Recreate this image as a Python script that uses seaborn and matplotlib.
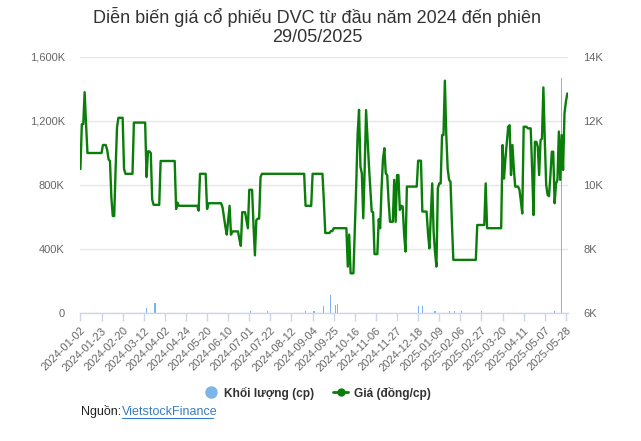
import numpy as np
import pandas as pd
import matplotlib
matplotlib.use("Agg")
import matplotlib.pyplot as plt
from matplotlib.lines import Line2D
import seaborn as sns

# ---- data ----
tick_labels = ["2024-01-02", "2024-01-23", "2024-02-20", "2024-03-12", "2024-04-02",
               "2024-04-24", "2024-05-20", "2024-06-10", "2024-07-01", "2024-07-22",
               "2024-08-12", "2024-09-04", "2024-09-25", "2024-10-16", "2024-11-06",
               "2024-11-27", "2024-12-18", "2025-01-09", "2025-02-06", "2025-02-27",
               "2025-03-20", "2025-04-11", "2025-05-07", "2025-05-28"]

# closing price (thousand VND) for each trading session, in order
price = ([10.5, 11.9, 11.9, 12.9, 11.9] + [11.0] * 11 + [11.25] * 3 +
         [11.1, 10.8, 10.75, 9.6, 9.03, 9.03, 10.5, 11.8] + [12.1] * 4 +
         [10.5] + [10.35] * 6 + [11.95] * 9 + [10.25, 11.05, 11.05, 11.0, 9.55] +
         [9.38] * 5 + [10.75] * 11 + [9.25, 9.45] + [9.35] * 14 + [9.2] +
         [10.35] * 5 + [9.25] + [9.43] * 10 +
         [9.3, 9.0, 8.7, 8.45, 8.9, 9.35, 8.45] + [8.55] * 5 + [8.3, 8.1] +
         [9.15] * 3 + [8.9, 8.65] + [9.85] * 3 + [8.75, 7.8, 8.9, 8.95, 8.95, 10.25] +
         [10.35] * 31 + [9.35] * 5 + [10.35] * 8 + [9.5] + [8.5] * 4 + [8.56] * 2 +
         [8.65] * 10 + [7.45, 8.45] + [7.24] * 3 +
         [8.6, 10.0, 11.6, 12.35, 10.57, 10.36, 8.96, 10.5, 12.34, 11.5, 10.63,
          9.9, 9.17, 9.15] + [7.84] * 3 +
         [8.93, 8.65, 9.9, 10.8, 11.15, 10.36, 10.31, 9.5] + [8.85] * 3 +
         [10.16, 8.85, 10.31, 10.31, 9.22, 9.35, 9.33, 8.5, 7.92] + [9.95] * 8 +
         [10.76] * 3 + [9.17] * 4 +
         [8.5, 8.02, 9.0, 10.05, 8.54, 7.9, 7.45, 9.9, 10.05, 10.05, 11.56, 11.56,
          13.26, 11.56, 10.5, 10.16, 10.1, 8.82] + [7.66] * 17 + [8.75] * 6 +
         [10.05] + [8.65] * 11 +
         [11.25, 10.2, 10.8, 11.3, 11.82, 11.87, 10.31, 11.25, 10.5, 9.95, 9.95,
          9.95, 9.85, 9.5, 9.11, 11.82, 11.82, 11.82, 11.77, 11.77, 11.77, 10.5,
          9.06, 11.35, 11.35, 11.2, 10.31, 11.4, 11.45, 13.05, 11.4, 10.0, 9.69,
          9.65, 10.3, 11.04, 11.04, 9.43, 10.05, 10.16, 11.67, 10.16, 11.56,
          10.47, 12.24, 12.6, 12.86])

# sessions with a visible volume bar (session index, volume in thousand shares)
vol_session = [47, 53, 121, 133, 160, 166, 173, 178, 181, 183, 240, 243, 252,
               262, 266, 271, 285, 337, 342]
vol_value = [30, 65, 10, 10, 10, 10, 45, 110, 52, 58, 42, 42, 10,
             10, 10, 10, 12, 10, 1470]

n = len(price)
assert n == 347, n
sessions = np.arange(n)
volume = np.zeros(n)
volume[vol_session] = vol_value
df = pd.DataFrame({"session": sessions, "price": price, "volume": volume})

# ---- figure ----
sns.set_theme(style="white")
plt.rcParams["font.family"] = ["Liberation Sans", "DejaVu Sans"]

fig = plt.figure(figsize=(6.41, 4.41), dpi=100)
L, R, T, B = 80 / 641, 568 / 641, 1 - 57 / 441, 1 - 313 / 441
ax = fig.add_axes([L, B, R - L, T - B])
ax2 = ax.twinx()

grid_c = "#e6e6e6"
axis_c = "#ccd6eb"
lab_c = "#666666"
vol_c = "#7cb5ec"
price_c = "#0a7d0a"

ax.bar(df["session"], df["volume"], width=0.8, color=vol_c, linewidth=0, zorder=2)
ax.set_ylim(0, 1600)
ax.set_yticks([0, 400, 800, 1200, 1600])
ax.set_yticklabels(["0", "400K", "800K", "1,200K", "1,600K"])
ax.yaxis.grid(True, color=grid_c, linewidth=1)
ax.set_axisbelow(True)

sns.lineplot(data=df, x="session", y="price", ax=ax2, color=price_c,
             linewidth=1.7, zorder=3, legend=False)
ax2.set_ylim(6, 14)
ax2.set_yticks([6, 8, 10, 12, 14])
ax2.set_yticklabels(["6K", "8K", "10K", "12K", "14K"])
ax2.grid(False)

ax.set_xlim(-0.3, 346.5)
ax.set_xticks(np.arange(0, n, 15))
ax.set_xticklabels(tick_labels, rotation=45, ha="right", rotation_mode="anchor")

for a in (ax, ax2):
    for s in a.spines.values():
        s.set_visible(False)
    a.set_xlabel("")
    a.set_ylabel("")
ax.spines["bottom"].set_visible(True)
ax.spines["bottom"].set_color(axis_c)
ax.spines["bottom"].set_linewidth(1)

ax.tick_params(axis="x", which="both", bottom=True, length=6, width=1,
               color=axis_c, labelsize=8, labelcolor=lab_c, pad=3)
ax.tick_params(axis="y", left=False, length=0, labelsize=8, labelcolor=lab_c, pad=11)
ax2.tick_params(axis="y", right=False, length=0, labelsize=8, labelcolor=lab_c, pad=11)

fig.text(0.495, 1 - 17 / 441, "Diễn biến giá cổ phiếu DVC từ đầu năm 2024 đến phiên",
         ha="center", va="center", fontsize=13, color="#333333")
fig.text(0.495, 1 - 38 / 441, "29/05/2025", ha="center", va="center",
         fontsize=13, color="#333333")

handles = [Line2D([], [], linestyle="none", marker="o", markersize=8,
                  markerfacecolor=vol_c, markeredgecolor=vol_c),
           Line2D([], [], color=price_c, linewidth=2, marker="o", markersize=5)]
fig.legend(handles, ["Khối lượng (cp)", "Giá (đồng/cp)"], loc="center",
           bbox_to_anchor=(0.495, 1 - 393 / 441), ncol=2, frameon=False,
           prop={"weight": "bold", "size": 8.6}, labelcolor="#333333",
           handlelength=1.2, handletextpad=0.5, columnspacing=1.6)

fig.text(81 / 641, 1 - 412 / 441, "Nguồn:", ha="left", va="center",
         fontsize=9, color="#222222")
fig.text(122 / 641, 1 - 412 / 441, "VietstockFinance", ha="left", va="center",
         fontsize=9, color="#3a7dbf")
fig.add_artist(Line2D([122 / 641, 213 / 641], [1 - 418 / 441, 1 - 418 / 441],
                      color="#3a7dbf", linewidth=0.8))

fig.savefig("out.png", dpi=100)
